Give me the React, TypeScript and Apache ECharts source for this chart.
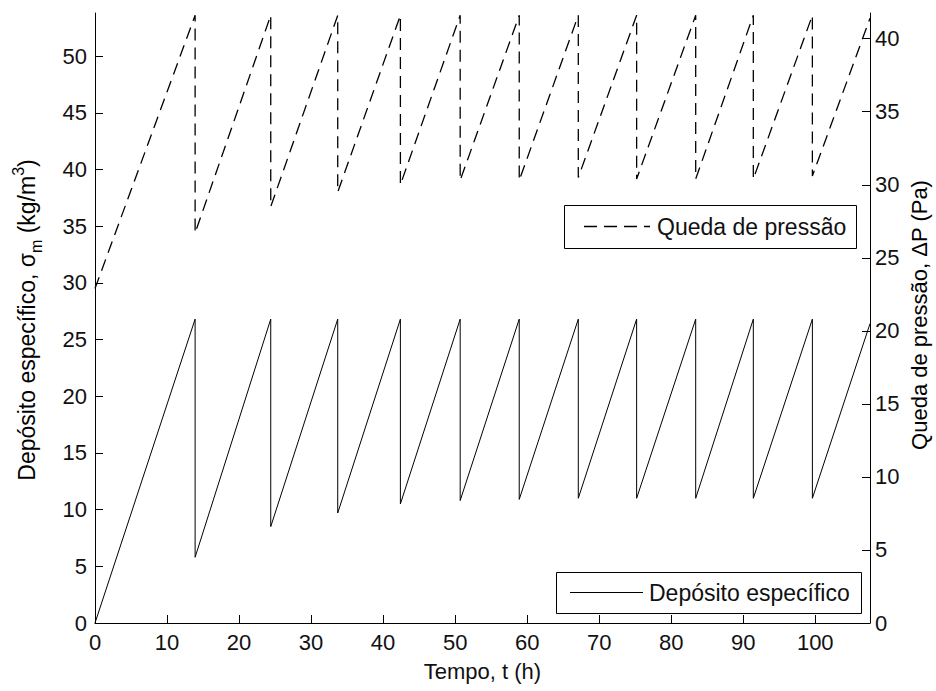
import React, { useEffect, useRef } from "react";
import * as echarts from "echarts";

// Time (h) — each filter cleaning appears twice (instantaneous drop)
const timeH = [0, 13.9, 13.9, 24.4, 24.4, 33.7, 33.7, 42.4, 42.4, 50.7, 50.7, 58.9, 58.9, 67.1, 67.1, 75.2, 75.2, 83.4, 83.4, 91.4, 91.4, 99.6, 99.6, 107.6];
// Depósito específico, sigma_m (kg/m3) — left axis
const deposito = [0, 26.8, 5.8, 26.8, 8.5, 26.8, 9.7, 26.8, 10.5, 26.8, 10.8, 26.8, 10.9, 26.8, 11.0, 26.8, 11.0, 26.8, 11.0, 26.8, 11.0, 26.8, 11.0, 26.4];
// Queda de pressão, ΔP (Pa) — right axis
const pressao = [22.9, 41.6, 26.7, 41.6, 28.5, 41.6, 29.5, 41.6, 30.0, 41.6, 30.3, 41.6, 30.3, 41.6, 30.5, 41.6, 30.4, 41.6, 30.4, 41.6, 30.4, 41.6, 30.6, 41.4];

const xTicks = [0, 10, 20, 30, 40, 50, 60, 70, 80, 90, 100];
const leftTicks = [0, 5, 10, 15, 20, 25, 30, 35, 40, 45, 50];
const rightTicks = [0, 5, 10, 15, 20, 25, 30, 35, 40];

const X_MAX = 107.6;
const LEFT_MAX = 53.8;
const RIGHT_MAX = 41.76;

const FONT = "'Liberation Sans', Arial, sans-serif";
const INK = "#111";

export default function App() {
  const ref = useRef<HTMLDivElement>(null);

  useEffect(() => {
    if (!ref.current) return;
    const chart = echarts.init(ref.current, null, { renderer: "svg" });

    const axisCommon = {
      axisLine: { show: true, lineStyle: { color: "#000", width: 1 } },
      axisTick: { show: true, inside: true, length: 8, lineStyle: { color: "#000" } },
      splitLine: { show: false },
    };

    const labelStyle = { color: INK, fontFamily: FONT, fontSize: 22 };

    const makeRich = (size: number, small: number, lh: number) => ({
      n: { fontFamily: FONT, fontSize: size, color: INK, lineHeight: lh, verticalAlign: "middle" },
      sub: { fontFamily: FONT, fontSize: small, color: INK, lineHeight: lh, verticalAlign: "bottom" },
      sup: { fontFamily: FONT, fontSize: small, color: INK, lineHeight: lh, verticalAlign: "top" },
    });

    chart.setOption({
      animation: false,
      backgroundColor: "#fff",
      grid: { left: 95, right: 66, top: 13, bottom: 68, containLabel: false },
      xAxis: {
        type: "value",
        min: 0,
        max: X_MAX,
        ...axisCommon,
        axisTick: { ...axisCommon.axisTick, customValues: xTicks },
        axisLabel: { ...labelStyle, margin: 8, customValues: xTicks },
        name: "Tempo, t (h)",
        nameLocation: "middle",
        nameGap: 37,
        nameTextStyle: { ...labelStyle },
      },
      yAxis: [
        {
          type: "value",
          position: "left",
          min: 0,
          max: LEFT_MAX,
          ...axisCommon,
          axisTick: { ...axisCommon.axisTick, customValues: leftTicks },
          axisLabel: { ...labelStyle, margin: 8, customValues: leftTicks },
        },
        {
          type: "value",
          position: "right",
          min: 0,
          max: RIGHT_MAX,
          ...axisCommon,
          axisTick: { ...axisCommon.axisTick, customValues: rightTicks },
          axisLabel: { ...labelStyle, margin: 5, customValues: rightTicks },
        },
      ],
      series: [
        {
          name: "Depósito específico",
          type: "line",
          yAxisIndex: 0,
          data: timeH.map((t, i) => [t, deposito[i]]),
          showSymbol: false,
          symbol: "none",
          lineStyle: { color: "#000", width: 1 },
          itemStyle: { color: "#000" },
        },
        {
          name: "Queda de pressão",
          type: "line",
          yAxisIndex: 1,
          data: timeH.map((t, i) => [t, pressao[i]]),
          showSymbol: false,
          symbol: "none",
          lineStyle: { color: "#000", width: 1.3, type: [12, 7] },
          itemStyle: { color: "#000" },
        },
      ],
      graphic: [
        // left axis name
        {
          type: "text",
          x: 27,
          y: 320,
          rotation: Math.PI / 2,
          style: {
            text: "{n|Depósito específico, σ}{sub|m}{n| (kg/m}{sup|3}{n|)}",
            rich: makeRich(23, 16, 34),
            align: "center",
            verticalAlign: "middle",
          },
        },
        // right axis name
        {
          type: "text",
          x: 919,
          y: 315,
          rotation: Math.PI / 2,
          style: {
            text: "{n|Queda de pressão, ΔP (Pa)}",
            rich: makeRich(22, 15, 32),
            align: "center",
            verticalAlign: "middle",
          },
        },
        // legend: Queda de pressão
        {
          type: "rect",
          shape: { x: 564.5, y: 205.5, width: 292, height: 43 },
          style: { fill: "#fff", stroke: "#000", lineWidth: 1 },
          z: 100,
        },
        {
          type: "line",
          shape: { x1: 584, y1: 226.5, x2: 650, y2: 226.5 },
          style: { stroke: "#000", lineWidth: 1.3, lineDash: [13, 7] },
          z: 101,
        },
        {
          type: "text",
          x: 657,
          y: 227,
          style: { text: "Queda de pressão", fontFamily: FONT, fontSize: 23, fill: INK, verticalAlign: "middle", align: "left" },
          z: 101,
        },
        // legend: Depósito específico
        {
          type: "rect",
          shape: { x: 556.5, y: 572.5, width: 305, height: 41 },
          style: { fill: "#fff", stroke: "#000", lineWidth: 1 },
          z: 100,
        },
        {
          type: "line",
          shape: { x1: 570, y1: 592.5, x2: 643, y2: 592.5 },
          style: { stroke: "#000", lineWidth: 1 },
          z: 101,
        },
        {
          type: "text",
          x: 649,
          y: 593,
          style: { text: "Depósito específico", fontFamily: FONT, fontSize: 23, fill: INK, verticalAlign: "middle", align: "left" },
          z: 101,
        },
      ],
    });

    return () => chart.dispose();
  }, []);

  return (
    <div
      ref={ref}
      style={{ position: "fixed", left: 0, top: 0, width: 936, height: 691, background: "#fff" }}
    />
  );
}
